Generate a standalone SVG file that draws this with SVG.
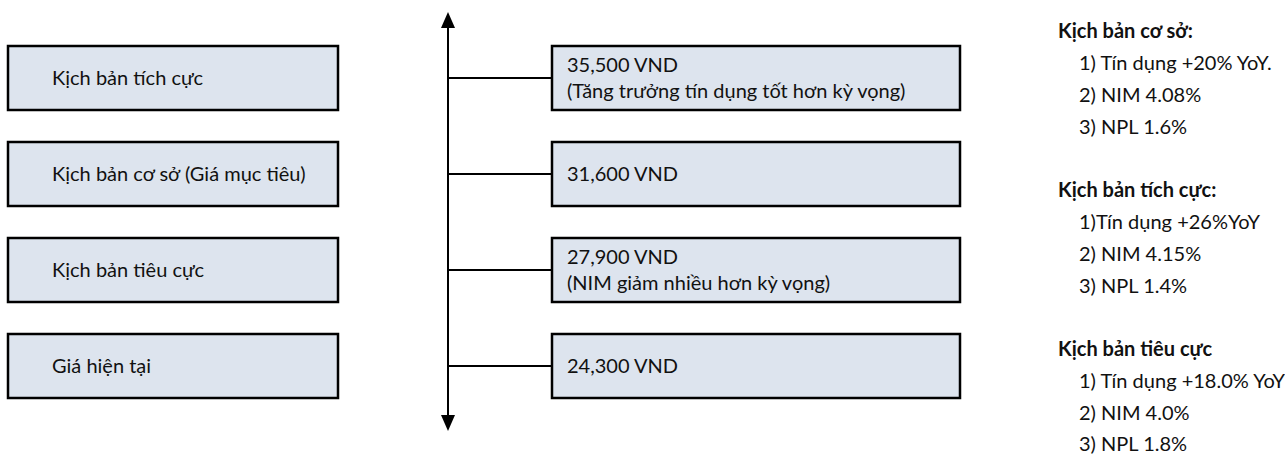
<svg xmlns="http://www.w3.org/2000/svg" width="1285" height="454" viewBox="0 0 1285 454">
<defs>
<style>
.box{fill:#dde4ee;stroke:#000;stroke-width:2.5}
.t{font-family:Lato,"Liberation Sans",sans-serif;font-size:20px;fill:#111}
.b{font-weight:bold}
.ln{stroke:#000;stroke-width:2;fill:none}
.ah{fill:#000}
</style>
</defs>
<rect width="1285" height="454" fill="#fff"/>
<g id="connectors">
<line class="ln" x1="448" y1="26" x2="448" y2="418"/>
<polygon class="ah" points="448,12 455,28 441,28"/>
<polygon class="ah" points="448,431 455,415 441,415"/>
<line class="ln" x1="448" y1="78" x2="552" y2="78"/>
<line class="ln" x1="448" y1="174" x2="552" y2="174"/>
<line class="ln" x1="448" y1="270" x2="552" y2="270"/>
<line class="ln" x1="448" y1="366" x2="552" y2="366"/>
</g>
<g id="left-positive"><rect class="box" x="8" y="46" width="330" height="64"/><text class="t" x="52" y="85">Kịch bản tích cực</text></g>
<g id="left-base"><rect class="box" x="8" y="142" width="330" height="64"/><text class="t" x="52" y="181">Kịch bản cơ sở (Giá mục tiêu)</text></g>
<g id="left-negative"><rect class="box" x="8" y="238" width="330" height="64"/><text class="t" x="52" y="277">Kịch bản tiêu cực</text></g>
<g id="left-current"><rect class="box" x="8" y="334" width="330" height="64"/><text class="t" x="52" y="373">Giá hiện tại</text></g>
<g id="right-positive"><rect class="box" x="552" y="46" width="408" height="64"/><text class="t" x="567" y="72">35,500 VND</text><text class="t" x="567" y="98">(Tăng trưởng tín dụng tốt hơn kỳ vọng)</text></g>
<g id="right-base"><rect class="box" x="552" y="142" width="408" height="64"/><text class="t" x="567" y="181">31,600 VND</text></g>
<g id="right-negative"><rect class="box" x="552" y="238" width="408" height="64"/><text class="t" x="567" y="264">27,900 VND</text><text class="t" x="567" y="290">(NIM giảm nhiều hơn kỳ vọng)</text></g>
<g id="right-current"><rect class="box" x="552" y="334" width="408" height="64"/><text class="t" x="567" y="373">24,300 VND</text></g>
<g id="legend">
<text class="t b" x="1058" y="38">Kịch bản cơ sở:</text>
<text class="t" x="1079" y="70">1) Tín dụng +20% YoY.</text>
<text class="t" x="1079" y="102">2) NIM 4.08%</text>
<text class="t" x="1079" y="134">3) NPL 1.6%</text>
<text class="t b" x="1058" y="197">Kịch bản tích cực:</text>
<text class="t" x="1079" y="229">1)Tín dụng +26%YoY</text>
<text class="t" x="1079" y="261">2) NIM 4.15%</text>
<text class="t" x="1079" y="293">3) NPL 1.4%</text>
<text class="t b" x="1058" y="356">Kịch bản tiêu cực</text>
<text class="t" x="1079" y="388">1) Tín dụng +18.0% YoY</text>
<text class="t" x="1079" y="420">2) NIM 4.0%</text>
<text class="t" x="1079" y="451">3) NPL 1.8%</text>
</g>
</svg>
